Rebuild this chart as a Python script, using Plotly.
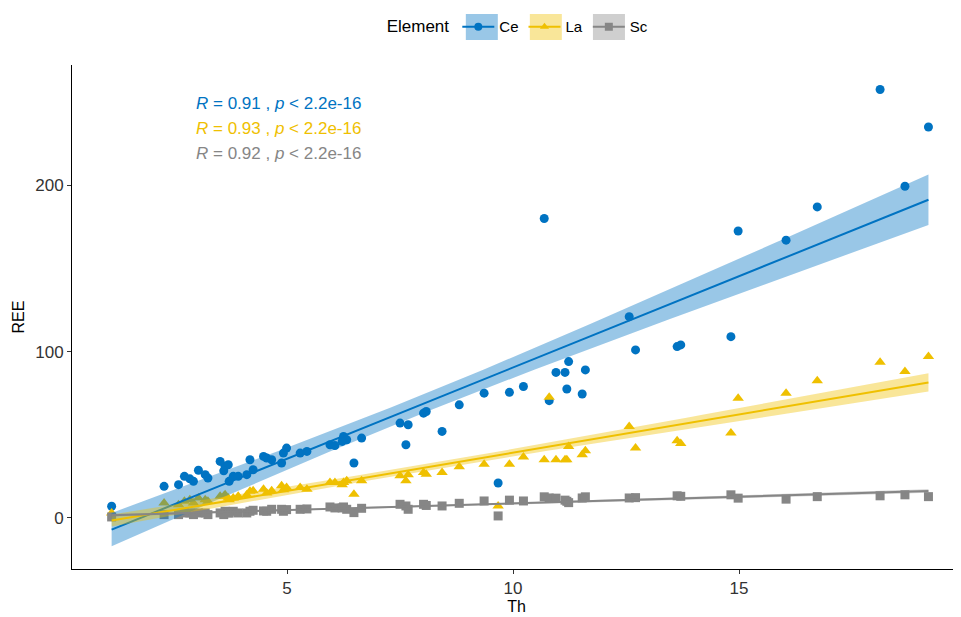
import numpy as np
import plotly.graph_objects as go

# ---- data ----
th = [1.12, 2.28, 2.60, 2.73, 2.85, 2.93, 3.04, 3.19, 3.25, 3.52, 3.63, 3.70, 3.60, 3.72, 3.81, 3.92,
      4.18, 4.11, 4.25, 4.48, 4.55, 4.66, 4.88, 4.99, 4.92, 5.29, 5.44, 5.95, 6.06, 6.25, 6.32, 6.22,
      6.65, 6.48, 7.50, 7.68, 7.63, 8.02, 8.08, 8.43, 8.81, 9.36, 9.67, 9.92, 10.23, 10.69, 10.80, 10.95,
      11.15, 11.23, 11.19, 11.53, 11.60, 12.57, 12.71, 13.63, 13.71, 14.82, 14.98, 16.04, 16.73, 18.12,
      18.67, 19.19]
ce = [7, 19, 20, 25, 23.5, 22, 28.7, 26, 24, 34, 31, 32, 28.3, 22, 25, 25,
      35, 26, 29, 37, 36, 35, 33, 42, 39, 39, 40, 44, 43.5, 49, 47, 46,
      48, 33, 57, 56, 44, 63, 64, 52, 68, 75, 21, 75.5, 79, 180, 70.5, 87.5,
      87.5, 94, 77.5, 74.5, 89, 121, 101, 103, 104, 109, 172.5, 167, 187, 257.6,
      199.4, 235]
la = [3, 9, 8, 10, 11, 9, 12, 11, 10, 13, 14, 12, 13, 11, 12, 13,
      16, 14, 16.3, 17.3, 15, 16.3, 19.3, 18.3, 17, 18.3, 17.3, 21.3, 21.3, 21.3, 22.3, 20,
      22.3, 14.3, 25.3, 26, 22.3, 27.3, 26.3, 27.3, 30.7, 32.3, 7.2, 32.3, 36.7, 35, 72.5, 35,
      35, 43, 35, 38, 40.4, 55, 42, 46.4, 44.8, 51, 72, 75, 82.5, 93.6,
      88, 97]
sc = [0.6, 2, 2, 3, 3, 2, 3, 3, 2, 3, 4, 3, 2, 3, 4, 3,
      4, 3, 4.6, 4.2, 4, 5.2, 5.2, 5, 4, 5.2, 5.4, 6.6, 6, 6.6, 5.2, 6,
      5.8, 3.2, 8.2, 5.2, 7.2, 8.2, 7.5, 7.2, 8.8, 10.2, 1.2, 10.7, 10.2, 12.7, 12, 11.9,
      10.7, 9.2, 10, 12, 12.7, 12, 12.2, 13.3, 13, 13.9, 11.9, 11.3, 12.8, 13.3,
      13.9, 12.8]

elements = ["Ce", "La", "Sc"]
values = {"Ce": ce, "La": la, "Sc": sc}
colors = {"Ce": "#0073C2", "La": "#EFC000", "Sc": "#868686"}
bands = {"Ce": "rgba(0,115,194,0.4)", "La": "rgba(239,192,0,0.4)", "Sc": "rgba(134,134,134,0.4)"}
symbols = {"Ce": "circle", "La": "triangle-up", "Sc": "square"}
sizes = {"Ce": 9, "La": 10, "Sc": 9}
labels = {"Ce": ("0.91", "2.2e-16"), "La": ("0.93", "2.2e-16"), "Sc": ("0.92", "2.2e-16")}
key_x = {"Ce": 0.443, "La": 0.515, "Sc": 0.586}

fig = go.Figure()
x = np.array(th)

# points first
for el in elements:
    fig.add_trace(go.Scatter(x=th, y=values[el], mode="markers", showlegend=False,
                             marker=dict(symbol=symbols[el], color=colors[el], size=sizes[el])))

# regression lines + 95% CI
T975 = 1.999
xs = np.linspace(x.min(), x.max(), 80)
for el in elements:
    y = np.array(values[el])
    b, a = np.polyfit(x, y, 1)
    n = len(x)
    resid = y - (a + b * x)
    s = np.sqrt(np.sum(resid ** 2) / (n - 2))
    sxx = np.sum((x - x.mean()) ** 2)
    yhat = a + b * xs
    se = s * np.sqrt(1 / n + (xs - x.mean()) ** 2 / sxx)
    lo, hi = yhat - T975 * se, yhat + T975 * se
    fig.add_trace(go.Scatter(x=np.concatenate([xs, xs[::-1]]), y=np.concatenate([hi, lo[::-1]]),
                             fill="toself", fillcolor=bands[el], line=dict(width=0),
                             mode="lines", showlegend=False, hoverinfo="skip"))
    fig.add_trace(go.Scatter(x=xs, y=yhat, mode="lines", showlegend=False,
                             line=dict(color=colors[el], width=2)))

# legend entries
for el in elements:
    fig.add_trace(go.Scatter(x=[None], y=[None], mode="lines+markers", name=el,
                             line=dict(color=colors[el], width=2),
                             marker=dict(symbol=symbols[el], color=colors[el], size=8)))
    fig.add_shape(type="rect", xref="paper", yref="paper", layer="above",
                  x0=key_x[el], x1=key_x[el] + 0.036, y0=1.0496, y1=1.101,
                  fillcolor=bands[el], line=dict(width=0))

# correlation labels
for i, el in enumerate(elements):
    r, p = labels[el]
    fig.add_annotation(x=2.95, y=249 - 15 * i, xref="x", yref="y", xanchor="left", yanchor="middle",
                       showarrow=False,
                       text=f"<i>R</i> = {r} , <i>p</i> < {p}",
                       font=dict(color=colors[el], size=17, family="Arial, Liberation Sans"))

fig.update_layout(
    width=953, height=609,
    margin=dict(l=64, r=0, t=57, b=48, autoexpand=False),
    paper_bgcolor="white", plot_bgcolor="white",
    font=dict(family="Arial, Liberation Sans", color="black", size=16),
    legend=dict(orientation="h", x=0.503, xanchor="center", y=0.969, yref="container",
                yanchor="middle", title=dict(text="Element", font=dict(size=17)),
                font=dict(size=15), itemwidth=32, bgcolor="rgba(0,0,0,0)"),
    xaxis=dict(range=[0.243, 19.91], showgrid=False, zeroline=False, showline=True,
               automargin=False,
               linecolor="black", linewidth=1, ticks="outside", ticklen=4, tickcolor="#333",
               tickvals=[5, 10, 15], tickfont=dict(size=17, color="#333"),
               title=dict(text="Th", font=dict(size=16), standoff=2)),
    yaxis=dict(range=[-30.7, 272.3], showgrid=False, zeroline=False, showline=True,
               automargin=False,
               linecolor="black", linewidth=1, ticks="outside", ticklen=4, tickcolor="#333",
               tickvals=[0, 100, 200], tickfont=dict(size=17, color="#333"),
               title=dict(text="REE", font=dict(size=16), standoff=6)),
)

fig.write_html("out.html")
